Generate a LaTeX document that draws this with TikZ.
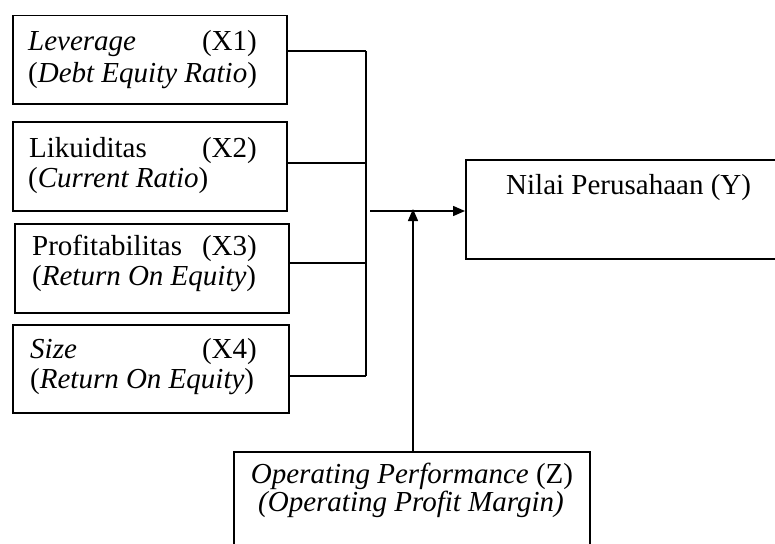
\documentclass[tikz,border=0pt]{standalone}
\usepackage{fontspec}
\setmainfont{Liberation Serif}
\usetikzlibrary{arrows.meta}
\begin{document}
\begin{tikzpicture}[x=1pt,y=-1pt,
  box/.style={draw,line width=1.5pt,inner sep=0pt,anchor=north west},
  txt/.style={inner sep=0pt,font=\fontsize{29}{31}\selectfont},
  link/.style={line width=1.5pt},
  arr/.style={line width=1.5pt,-{Triangle[length=12pt,width=10pt]}}]
\useasboundingbox (0,0) rectangle (775,543);
\clip (0,0) rectangle (775,543);
% boxes
\node[box,minimum width=274pt,minimum height=88pt] (b1) at (12,15) {};
\node[box,minimum width=274pt,minimum height=89pt] (b2) at (12,121) {};
\node[box,minimum width=274pt,minimum height=89pt] (b3) at (14,223) {};
\node[box,minimum width=276pt,minimum height=88pt] (b4) at (12,324) {};
\node[box,minimum width=330pt,minimum height=99pt] (bY) at (465,159) {};
\node[box,minimum width=356pt,minimum height=130pt] (bZ) at (233,451) {};
% texts
\node[txt,anchor=base west] (t1a) at (28,50) {\textit{Leverage}};
\node[txt,anchor=base east] (t1b) at (257,50) {(X1)};
\node[txt,anchor=base west] (t1c) at (28,82) {(\textit{Debt Equity Ratio})};
\node[txt,anchor=base west] (t2a) at (29,157) {Likuiditas};
\node[txt,anchor=base east] (t2b) at (257,157) {(X2)};
\node[txt,anchor=base west] (t2c) at (28,187) {(\textit{Current Ratio})};
\node[txt,anchor=base west] (t3a) at (32,255) {Profitabilitas};
\node[txt,anchor=base east] (t3b) at (257,255) {(X3)};
\node[txt,anchor=base west] (t3c) at (32,285) {(\textit{Return On Equity})};
\node[txt,anchor=base west] (t4a) at (30,358) {\textit{Size}};
\node[txt,anchor=base east] (t4b) at (257,358) {(X4)};
\node[txt,anchor=base west] (t4c) at (30,388) {(\textit{Return On Equity})};
\node[txt,anchor=base west] (tY) at (506,194) {Nilai Perusahaan (Y)};
\node[txt,anchor=base] (tZa) at (412,483) {\textit{Operating Performance} (Z)};
\node[txt,anchor=base] (tZb) at (411,511) {\textit{(Operating Profit Margin)}};
% junctions
\coordinate (j1) at (366,51);
\coordinate (j2) at (366,163);
\coordinate (j3) at (366,263);
\coordinate (j4) at (366,376);
\coordinate (a0) at (370,211);
% connectors
\draw[link] (b1.east |- j1) -- (j1);
\draw[link] (b2.east |- j2) -- (j2);
\draw[link] (b3.east |- j3) -- (j3);
\draw[link] (b4.east |- j4) -- (j4);
\draw[link] (j1) -- (j4);
\draw[arr] (a0) -- (bY.west |- a0);
\draw[arr] (bZ.north -| 413,0) -- (413,209);
\end{tikzpicture}
\end{document}
